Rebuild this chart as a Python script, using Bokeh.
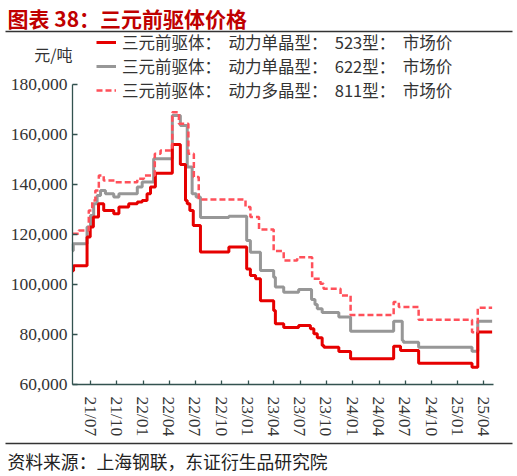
import pandas as pd
from bokeh.plotting import figure
from bokeh.models import (ColumnDataSource, Range1d, FixedTicker, NumeralTickFormatter,
                          DatetimeTickFormatter, Legend, LegendItem, Label)
from bokeh.embed import file_html
from bokeh.resources import INLINE

# ---------------- data ----------------
title_text = "图表 38：三元前驱体价格"
unit_text = "元/吨"
source_text = "资料来源：上海钢联，东证衍生品研究院"
series_names = [
    "三元前驱体：  动力单晶型：  523型：  市场价",
    "三元前驱体：  动力单晶型：  622型：  市场价",
    "三元前驱体：  动力多晶型：  811型：  市场价",
]
tick_labels = ["21/07", "21/10", "22/01", "22/04", "22/07", "22/10", "23/01", "23/04",
               "23/07", "23/10", "24/01", "24/04", "24/07", "24/10", "25/01", "25/04"]
y_ticks = [60000, 80000, 100000, 120000, 140000, 160000, 180000]

# 523 (step change points)
r_dates = ["2021-04-30", "2021-05-03", "2021-06-19", "2021-06-30", "2021-07-11", "2021-07-29",
           "2021-08-16", "2021-09-20", "2021-10-08", "2021-11-11", "2021-12-11", "2021-12-28",
           "2022-01-14", "2022-01-26", "2022-02-12", "2022-04-12", "2022-05-10", "2022-05-28",
           "2022-06-03", "2022-06-12", "2022-06-24", "2022-07-19", "2022-10-26", "2022-12-27",
           "2023-01-09", "2023-01-27", "2023-02-13", "2023-03-31", "2023-04-06", "2023-05-05",
           "2023-06-26", "2023-08-06", "2023-08-18", "2023-08-30", "2023-09-16", "2023-09-22",
           "2023-11-13", "2023-12-24", "2024-05-22", "2024-06-15", "2024-08-17", "2025-02-19",
           "2025-03-11", "2025-04-30"]
r_vals = [105500, 107500, 119000, 123000, 127000, 132300,
          129600, 128300, 131000, 132300, 133000, 133600,
          136300, 139000, 144500, 156000, 148000, 133600,
          132300, 129600, 123600, 113000, 115000, 106200,
          103600, 102300, 93500, 89600, 84300, 82800,
          83600, 82300, 80300, 78700, 75600, 74900,
          73200, 70300, 75300, 73600, 68500, 66900,
          81000, 81000]

# 622
g_dates = ["2021-04-30", "2021-05-02", "2021-06-19", "2021-07-01", "2021-07-12", "2021-07-24",
           "2021-08-05", "2021-08-22", "2021-09-20", "2021-10-08", "2021-12-11", "2021-12-28",
           "2022-02-06", "2022-04-12", "2022-05-10", "2022-06-03", "2022-06-20", "2022-07-04",
           "2022-07-19", "2022-10-26", "2022-12-27", "2023-01-09", "2023-02-13", "2023-03-31",
           "2023-04-06", "2023-05-05", "2023-06-26", "2023-08-10", "2023-08-22", "2023-08-30",
           "2023-09-16", "2023-11-13", "2023-12-24", "2024-05-22", "2024-06-21", "2024-06-25",
           "2024-08-17", "2025-02-19", "2025-03-11", "2025-04-30"]
g_vals = [113500, 116300, 123000, 127600, 132300, 135600,
          137600, 136300, 135000, 136300, 139000, 141000,
          150300, 167600, 163600, 147000, 136300, 135000,
          126800, 127300, 117600, 112900, 105600, 102900,
          99000, 96900, 98000, 94000, 92000, 90300,
          88800, 87000, 81300, 85300, 77600, 76900,
          74900, 73300, 85300, 85300]

# 811
d_dates = ["2021-04-30", "2021-05-21", "2021-06-25", "2021-07-07", "2021-07-18", "2021-07-30",
           "2021-08-16", "2021-09-26", "2021-12-11", "2022-01-03", "2022-02-10", "2022-03-02",
           "2022-04-12", "2022-05-05", "2022-06-07", "2022-06-26", "2022-07-13", "2022-12-23",
           "2023-01-09", "2023-02-08", "2023-03-31", "2023-05-05", "2023-06-21", "2023-08-12",
           "2023-09-10", "2023-09-21", "2023-11-19", "2023-12-24", "2024-05-22", "2024-06-09",
           "2024-08-17", "2025-02-19", "2025-03-11", "2025-04-30"]
d_vals = [120300, 121600, 129600, 133600, 137600, 143600,
          141600, 140900, 142300, 143600, 152300, 153600,
          168900, 164300, 152300, 143000, 134000, 131000,
          127000, 122000, 113400, 109600, 110900, 102300,
          100300, 98300, 95600, 87800, 93000, 91000,
          85900, 80900, 90700, 90700]

# ---------------- layout (page pixels) ----------------
W, H = 515, 474
AX_LEFT, AX_RIGHT = 72, 493          # x-axis line extent
AX_BOTTOM, AX_TOP = 384, 84          # y-axis line extent (60,000 .. 180,000)
TICK_FIRST_PX, TICK_LAST_PX = 90.0, 483.3

CJK = "Noto Sans CJK SC"
SERIF = "Liberation Serif"
AXIS_COLOR = "#33524f"
TEXT_COLOR = "#333333"
RED = "#e60000"
GRAY = "#979797"
PINK = "#ff505a"


def to_ms(s):
    return float((pd.Timestamp(s) - pd.Timestamp("1970-01-01")) // pd.Timedelta("1ms"))


tick_ms = [to_ms("20" + t.replace("/", "-") + "-01") for t in tick_labels]
ms_per_px = (tick_ms[-1] - tick_ms[0]) / (TICK_LAST_PX - TICK_FIRST_PX)


def px_to_ms(px):
    return tick_ms[0] + (px - TICK_FIRST_PX) * ms_per_px


val_per_px = (y_ticks[-1] - y_ticks[0]) / (AX_BOTTOM - AX_TOP)


def py_to_val(py):
    return y_ticks[0] + (AX_BOTTOM - py) * val_per_px


p = figure(width=W, height=H, x_axis_type="datetime",
           x_range=Range1d(px_to_ms(0), px_to_ms(W)),
           y_range=Range1d(py_to_val(H), py_to_val(0)),
           toolbar_location=None, output_backend="svg", min_border=0)
p.extra_x_ranges = {"px": Range1d(0, W)}
p.extra_y_ranges = {"py": Range1d(H, 0)}
p.outline_line_color = None
p.grid.visible = False
p.background_fill_color = "white"
p.border_fill_color = "white"

src_r = ColumnDataSource(dict(x=pd.to_datetime(r_dates), y=r_vals))
src_g = ColumnDataSource(dict(x=pd.to_datetime(g_dates), y=g_vals))
src_d = ColumnDataSource(dict(x=pd.to_datetime(d_dates), y=d_vals))

rg = p.step("x", "y", source=src_g, mode="after", line_color=GRAY, line_width=3)
rr = p.step("x", "y", source=src_r, mode="after", line_color=RED, line_width=3)
rd = p.step("x", "y", source=src_d, mode="after", line_color=PINK, line_width=2.5,
            line_dash="6 3")

# axes placed at fixed data locations inside the canvas
p.xaxis.fixed_location = y_ticks[0]
p.xaxis.bounds = (px_to_ms(AX_LEFT), px_to_ms(AX_RIGHT))
p.xaxis.ticker = FixedTicker(ticks=tick_ms)
fmt = "%y/%m"
p.xaxis.formatter = DatetimeTickFormatter(milliseconds=fmt, seconds=fmt, minsec=fmt, minutes=fmt,
                                          hourmin=fmt, hours=fmt, days=fmt, months=fmt, years=fmt)
p.xaxis.major_label_orientation = "vertical"
p.xaxis.major_tick_in = 4
p.xaxis.major_tick_out = 0
p.xaxis.major_label_standoff = 12

p.yaxis.fixed_location = px_to_ms(AX_LEFT)
p.yaxis.bounds = (y_ticks[0], y_ticks[-1])
p.yaxis.ticker = FixedTicker(ticks=y_ticks)
p.yaxis.formatter = NumeralTickFormatter(format="0,0")
p.yaxis.major_tick_in = 5
p.yaxis.major_tick_out = 0
p.yaxis.major_label_standoff = 5

for ax in (p.xaxis, p.yaxis):
    ax.minor_tick_line_color = None
    ax.axis_line_color = AXIS_COLOR
    ax.axis_line_width = 1.3
    ax.major_tick_line_color = AXIS_COLOR
    ax.major_tick_line_width = 1.3
    ax.major_label_text_font = SERIF
    ax.major_label_text_font_size = "17.5px"
    ax.major_label_text_color = TEXT_COLOR

legend = Legend(items=[LegendItem(label=series_names[0], renderers=[rr]),
                       LegendItem(label=series_names[1], renderers=[rg]),
                       LegendItem(label=series_names[2], renderers=[rd])],
                location=(96, H - 102), orientation="vertical",
                label_text_font=CJK, label_text_font_size="16.5px", label_text_color=TEXT_COLOR,
                glyph_width=20, glyph_height=20, label_height=20, label_standoff=6,
                spacing=0, padding=0, margin=0,
                border_line_color=None, background_fill_alpha=0)
p.add_layout(legend, "center")

# texts and rules around the chart, positioned in page pixels
common = dict(x_range_name="px", y_range_name="py", text_baseline="middle")
p.add_layout(Label(x=7, y=17, text=title_text, text_font=CJK, text_font_size="21px",
                   text_font_style="bold", text_color="#c00000", **common))
p.add_layout(Label(x=AX_LEFT, y=53, text=unit_text, text_font=CJK, text_font_size="16px",
                   text_color=TEXT_COLOR, text_align="right", **common))
p.add_layout(Label(x=7, y=460, text=source_text, text_font=CJK, text_font_size="17.8px",
                   text_color="#222222", **common))
p.segment(x0=[5, 5], y0=[31, 443], x1=[512, 512], y1=[31, 443],
          line_color="#333333", line_width=1.5, x_range_name="px", y_range_name="py")

open("out.html", "w").write(file_html(p, INLINE))
